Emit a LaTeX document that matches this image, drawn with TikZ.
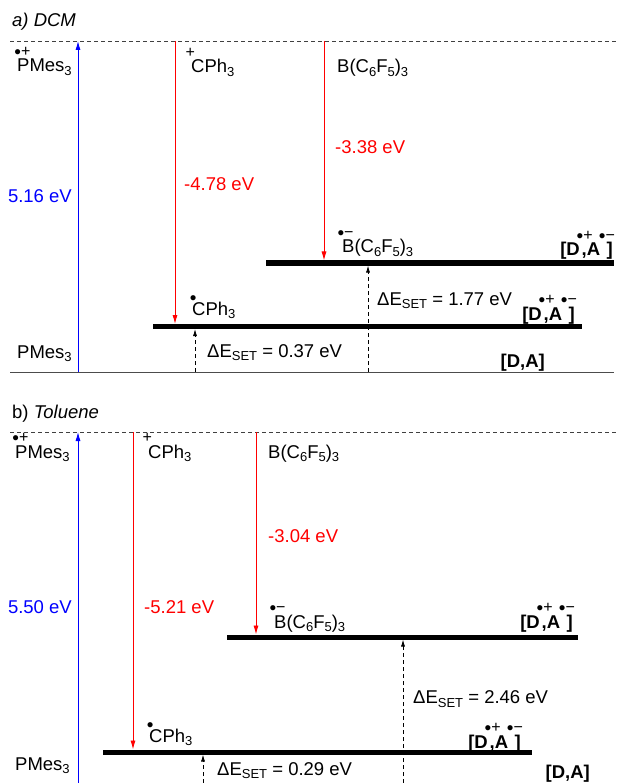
\documentclass[tikz,border=0pt]{standalone}
\usepackage{fontspec}
\setmainfont{Liberation Sans}
\usepackage{tikz}
\usetikzlibrary{arrows.meta}

\newcommand{\fs}{\fontsize{18.5}{22}\selectfont}
\newcommand{\lo}[1]{\raisebox{-0.2em}{\fontsize{13}{13}\selectfont #1}}
\newcommand{\dt}{{\fontsize{19}{19}\selectfont\raisebox{-2pt}{•}}}
% raised signs over a letter (radical, charge)
\newcommand{\rad}[3][0.85em]{\makebox[0pt][l]{\kern#2\raisebox{#1}{\normalfont\fontsize{16}{16}\selectfont #3}}}
\newcommand{\pair}{\textbf{[D\rad{-0.17em}{\dt+}\kern0.1em,A\rad{-0.07em}{\dt−}\kern0.35em]}}

\begin{document}
\begin{tikzpicture}[x=1pt, y=-1pt,
    every node/.style={inner sep=0pt, font=\fs},
    lbl/.style={anchor=base west},
    rlbl/.style={anchor=base east},
    level/.style={line width=5pt},
    topline/.style={black!75, line width=0.8pt, dash pattern=on 4pt off 3pt},
    axis/.style={black!70, line width=0.8pt},
    redarr/.style={red, line width=0.9pt, -{Latex[length=9pt,width=5pt]}, shorten >=2.5pt},
    bluearr/.style={blue, line width=0.9pt, -{Latex[length=9pt,width=5pt]}},
    setarr/.style={line width=0.8pt, dash pattern=on 4pt off 3pt, -{Latex[length=7pt,width=4pt]}, shorten >=2.5pt}]
  \useasboundingbox (0,0) rectangle (616,783);

  % a) DCM
  \node[lbl] (aTitle) at (12,27) {\itshape a) DCM};
  \coordinate (aTopL) at (10,41);   \coordinate (aTopR) at (616,41);
  \coordinate (aAxL) at (10,372);   \coordinate (aAxR) at (614,372);
  \coordinate (aBL) at (266,263);   \coordinate (aBR) at (614,263);
  \coordinate (aCL) at (153,326.5); \coordinate (aCR) at (582,326.5);
  \coordinate (aBlue) at (78,372);
  \coordinate (aRed1) at (175,41);  \coordinate (aRed2) at (324,41);
  \coordinate (aSet1) at (195,372); \coordinate (aSet2) at (368,372);

  \draw[topline] (aTopL) -- (aTopR);
  \draw[axis] (aAxL) -- (aAxR);
  \draw[level] (aBL) -- (aBR);
  \draw[level] (aCL) -- (aCR);

  \node[lbl] (aDon) at (17,72) {\rad{-0.15em}{\dt+}PMes\lo{3}};
  \node[lbl] (aCat) at (191,73) {\rad{-0.3em}{+}CPh\lo{3}};
  \node[lbl] (aBor) at (337,73) {B(C\lo{6}F\lo{5})\lo{3}};
  \node[lbl, red] (aE2) at (335,153.5) {-3.38 eV};
  \node[lbl, red] (aE1) at (184,190.5) {-4.78 eV};
  \node[rlbl, blue] (aIP) at (72,202.5) {5.16 eV};
  \node[lbl] (aBrad) at (342,253) {\rad{-0.25em}{\dt−}B(C\lo{6}F\lo{5})\lo{3}};
  \node[rlbl] (aPairB) at (613,256) {\pair};
  \node[lbl] (aCrad) at (192,315) {\rad[0.66em]{-0.12em}{\dt}CPh\lo{3}};
  \node[rlbl] (aPairC) at (575,320) {\pair};
  \node[lbl] (aSetB) at (377,305) {ΔE\lo{SET} = 1.77 eV};
  \node[lbl] (aSetC) at (207,357) {ΔE\lo{SET} = 0.37 eV};
  \node[lbl] (aPM) at (17,358) {PMes\lo{3}};
  \node[rlbl] (aDA) at (545,367) {\textbf{[D,A]}};

  \draw[bluearr] (aBlue) -- (aBlue |- aTopL);
  \draw[redarr] (aRed1) -- (aRed1 |- aCL);
  \draw[redarr] (aRed2) -- (aRed2 |- aBL);
  \draw[setarr] (aSet1) -- (aSet1 |- aCL);
  \draw[setarr] (aSet2) -- (aSet2 |- aBL);

  % b) Toluene
  \node[lbl] (bTitle) at (12,418) {b) \itshape Toluene};
  \coordinate (bTopL) at (10,432);  \coordinate (bTopR) at (616,432);
  \coordinate (bAxL) at (10,783.5); \coordinate (bAxR) at (614,783.5);
  \coordinate (bBL) at (227,637);   \coordinate (bBR) at (578,637);
  \coordinate (bCL) at (103,752);   \coordinate (bCR) at (532,752);
  \coordinate (bBlue) at (78,783);
  \coordinate (bRed1) at (133,432); \coordinate (bRed2) at (256,432);
  \coordinate (bSet1) at (203,783); \coordinate (bSet2) at (403,783);

  \draw[topline] (bTopL) -- (bTopR);
  \draw[axis] (bAxL) -- (bAxR);
  \draw[level] (bBL) -- (bBR);
  \draw[level] (bCL) -- (bCR);

  \node[lbl] (bDon) at (15,458) {\rad{-0.15em}{\dt+}PMes\lo{3}};
  \node[lbl] (bCat) at (148,458) {\rad{-0.3em}{+}CPh\lo{3}};
  \node[lbl] (bBor) at (268,458) {B(C\lo{6}F\lo{5})\lo{3}};
  \node[lbl, red] (bE2) at (268,542.5) {-3.04 eV};
  \node[lbl, red] (bE1) at (144,613.5) {-5.21 eV};
  \node[rlbl, blue] (bIP) at (72,613.5) {5.50 eV};
  \node[lbl] (bBrad) at (274,628) {\rad{-0.25em}{\dt−}B(C\lo{6}F\lo{5})\lo{3}};
  \node[rlbl] (bPairB) at (573,628) {\pair};
  \node[lbl] (bCrad) at (149,742) {\rad[0.66em]{-0.12em}{\dt}CPh\lo{3}};
  \node[rlbl] (bPairC) at (521,748) {\pair};
  \node[lbl] (bSetB) at (413,703.5) {ΔE\lo{SET} = 2.46 eV};
  \node[lbl] (bSetC) at (217,775) {ΔE\lo{SET} = 0.29 eV};
  \node[lbl] (bPM) at (15,770) {PMes\lo{3}};
  \node[rlbl] (bDA) at (590,778) {\textbf{[D,A]}};

  \draw[bluearr] (bBlue) -- (bBlue |- bTopL);
  \draw[redarr] (bRed1) -- (bRed1 |- bCL);
  \draw[redarr] (bRed2) -- (bRed2 |- bBL);
  \draw[setarr] (bSet1) -- (bSet1 |- bCL);
  \draw[setarr] (bSet2) -- (bSet2 |- bBL);
\end{tikzpicture}
\end{document}
